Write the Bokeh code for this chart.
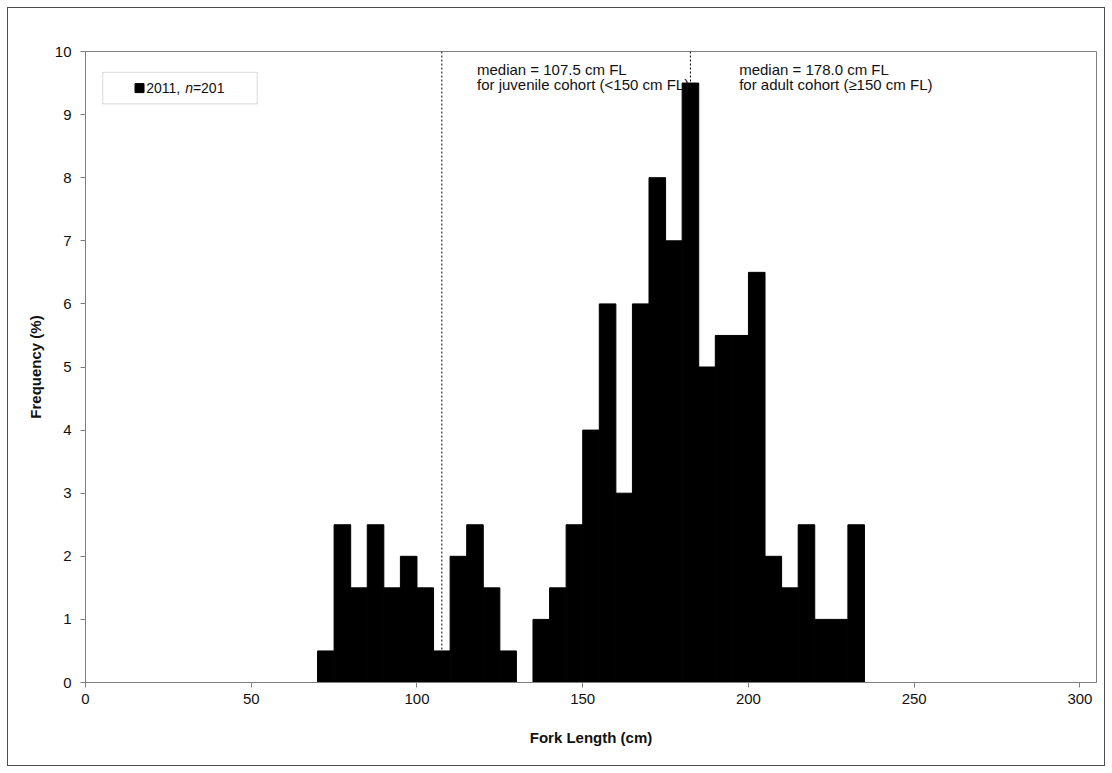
from bokeh.plotting import figure
from bokeh.models import Span, Label, BoxAnnotation, FixedTicker, Range1d, ColumnDataSource
from bokeh.embed import file_html
from bokeh.resources import INLINE

# Data: 5-cm fork length bins (lower edge) and frequency (%)
bin_lower = [70, 75, 80, 85, 90, 95, 100, 105, 110, 115, 120, 125, 130,
             135, 140, 145, 150, 155, 160, 165, 170, 175, 180, 185, 190,
             195, 200, 205, 210, 215, 220, 225, 230]
frequency = [0.5, 2.5, 1.5, 2.5, 1.5, 2.0, 1.5, 0.5, 2.0, 2.5, 1.5, 0.5, 0.0,
             1.0, 1.5, 2.5, 4.0, 6.0, 3.0, 6.0, 8.0, 7.0, 9.5, 5.0, 5.5,
             5.5, 6.5, 2.0, 1.5, 2.5, 1.0, 1.0, 2.5]
bin_width = 5
# dashed median markers, as drawn in the original chart
median_juvenile_marker = 107.5
median_adult_marker = 182.5
x_ticks = [0, 50, 100, 150, 200, 250, 300]
y_ticks = [0, 1, 2, 3, 4, 5, 6, 7, 8, 9, 10]

FONT = "Liberation Sans"
GRAY = "#7f7f7f"
TXT = "#111111"

src = ColumnDataSource(dict(
    left=bin_lower,
    right=[b + bin_width for b in bin_lower],
    top=frequency,
    bottom=[0] * len(frequency),
))

p = figure(width=1098, height=759, output_backend="svg", toolbar_location=None,
           x_range=Range1d(0, 305), y_range=Range1d(0, 10),
           min_border_left=77, min_border_right=10, min_border_top=43, min_border_bottom=85)
p.styles = {"border": "1px solid #4d4d4d", "margin-left": "7px", "margin-top": "7px"}

p.quad(left="left", right="right", top="top", bottom="bottom", source=src,
       fill_color="black", line_color="black", line_width=1)

p.grid.visible = False
p.outline_line_color = GRAY
p.outline_line_width = 1

for ax in (p.xaxis[0], p.yaxis[0]):
    ax.axis_line_color = GRAY
    ax.major_tick_line_color = GRAY
    ax.major_tick_out = 5
    ax.major_tick_in = 0
    ax.minor_tick_line_color = None
    ax.major_label_text_font = FONT
    ax.major_label_text_font_size = "15px"
    ax.major_label_text_color = TXT
    ax.axis_label_text_font = FONT
    ax.axis_label_text_font_size = "15px"
    ax.axis_label_text_font_style = "bold"
    ax.axis_label_text_color = TXT

p.xaxis.ticker = FixedTicker(ticks=x_ticks)
p.yaxis.ticker = FixedTicker(ticks=y_ticks)
p.xaxis.axis_label = "Fork Length (cm)"
p.yaxis.axis_label = "Frequency (%)"
p.xaxis.axis_label_standoff = 22
p.yaxis.axis_label_standoff = 8
p.xaxis.major_label_standoff = 6
p.yaxis.major_label_standoff = 9

for m in (median_juvenile_marker, median_adult_marker):
    p.add_layout(Span(location=m, dimension="height", line_color="black",
                      line_width=1, line_dash="2 2"))

ann = dict(text_font=FONT, text_font_size="15px", text_color=TXT,
           text_baseline="middle", text_align="left")
p.add_layout(Label(x=118.1, y=9.72, text="median = 107.5 cm FL", **ann))
p.add_layout(Label(x=118.1, y=9.48, text="for juvenile cohort (<150 cm FL)", **ann))
p.add_layout(Label(x=197.2, y=9.72, text="median = 178.0 cm FL", **ann))
p.add_layout(Label(x=197.2, y=9.48, text="for adult cohort (\u2265150 cm FL)", **ann))

# legend box
p.add_layout(BoxAnnotation(left=5.2, right=51.8, bottom=9.17, top=9.67,
                           fill_color="white", fill_alpha=1.0,
                           line_color=GRAY, line_width=1, level="underlay"))
p.scatter(x=[16.3], y=[9.42], marker="square", size=9, fill_color="black", line_color="black")
leg = dict(text_font=FONT, text_font_size="14px", text_color=TXT,
           text_baseline="middle", text_align="left")
p.add_layout(Label(x=18.3, y=9.42, text="2011, ", **leg))
p.add_layout(Label(x=30.1, y=9.42, text="n", text_font_style="italic", **leg))
p.add_layout(Label(x=32.4, y=9.42, text="=201", **leg))

open("out.html", "w").write(file_html(p, INLINE))
